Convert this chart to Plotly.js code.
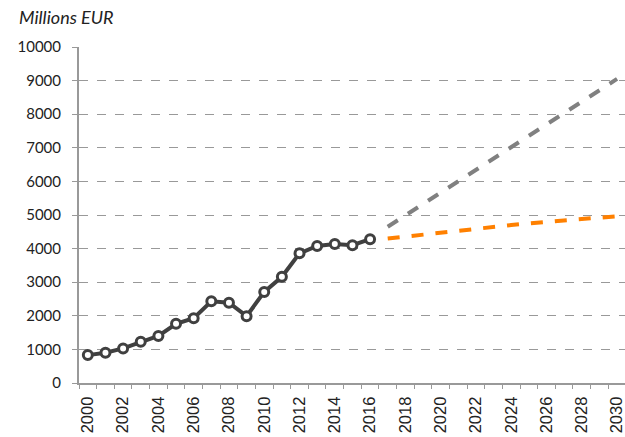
<!DOCTYPE html>
<html><head><meta charset="utf-8">
<script src="https://cdn.plot.ly/plotly-3.0.1.min.js"></script>
<style>html,body{margin:0;padding:0;background:#fff}#chart{width:625px;height:437px}</style>
</head><body><div id="chart"></div>
<script>
const histYears = [2000,2001,2002,2003,2004,2005,2006,2007,2008,2009,2010,2011,2012,2013,2014,2015,2016];
const histValues = [830,900,1030,1230,1400,1760,1930,2430,2390,1990,2710,3160,3860,4080,4140,4100,4280];
const projYears = [2017,2018,2019,2020,2021,2022,2023,2024,2025,2026,2027,2028,2029,2030];
const highValues = [4650,4990,5330,5670,6000,6340,6680,7020,7360,7700,8030,8370,8710,9050];
const lowValues = [4300,4360,4420,4480,4540,4600,4650,4700,4750,4800,4840,4880,4920,4960];
const xTickYears = [2000,2002,2004,2006,2008,2010,2012,2014,2016,2018,2020,2022,2024,2026,2028,2030];
const yTicks = [0,1000,2000,3000,4000,5000,6000,7000,8000,9000,10000];
const boundaryTicks = [];
for (let i = 0; i < 32; i++) boundaryTicks.push(1999.5 + i);

const traces = [
  {x: projYears, y: highValues, mode:'lines', line:{color:'#808080', width:4, dash:'dash'}, hoverinfo:'skip'},
  {x: projYears, y: lowValues, mode:'lines', line:{color:'#FF8000', width:4, dash:'dash'}, hoverinfo:'skip'},
  {x: histYears, y: histValues, mode:'lines+markers', line:{color:'#404040', width:4},
   marker:{symbol:'circle', size:9, color:'#ffffff', line:{color:'#404040', width:3}}},
  {x: [2000], y: [null], xaxis:'x2', mode:'markers', showlegend:false, hoverinfo:'skip'}
];

const layout = {
  width:625, height:437,
  margin:{l:79, r:0, t:47, b:54},
  paper_bgcolor:'#fff', plot_bgcolor:'#fff',
  showlegend:false,
  title:{text:'<i>Millions EUR</i>', font:{family:'Lato', size:18, color:'#222'},
         xref:'container', yref:'container', x:19/625, xanchor:'left', y:1-18/437, yanchor:'middle'},
  xaxis:{range:[1999.5,2030.45], tickvals:xTickYears, ticktext:xTickYears.map(String),
         tickangle:-90, ticks:'', showgrid:false, zeroline:false,
         showline:true, linecolor:'#999', linewidth:2, ticklabeloverflow:'allow',
         ticklabelstandoff:5, automargin:false,
         tickfont:{family:'Liberation Sans, Arial', size:16.5, color:'#222'}},
  xaxis2:{overlaying:'x', range:[1999.5,2030.45], tickvals:boundaryTicks, ticks:'outside', ticklen:5,
          tickcolor:'#999', tickwidth:1, showticklabels:false, showgrid:false, zeroline:false,
          showline:false, side:'bottom'},
  yaxis:{range:[0,10000], tickvals:yTicks, ticktext:yTicks.map(String), ticks:'outside', ticklen:5,
         tickcolor:'#999', showgrid:true, gridcolor:'#999', griddash:'dash', gridwidth:1,
         zeroline:false, showline:true, linecolor:'#999', linewidth:2,
         ticklabelstandoff:8, automargin:false,
         tickfont:{family:'Lato', size:15, color:'#222'}}
};
Plotly.newPlot('chart', traces, layout, {displayModeBar:false, staticPlot:true});
</script></body></html>
